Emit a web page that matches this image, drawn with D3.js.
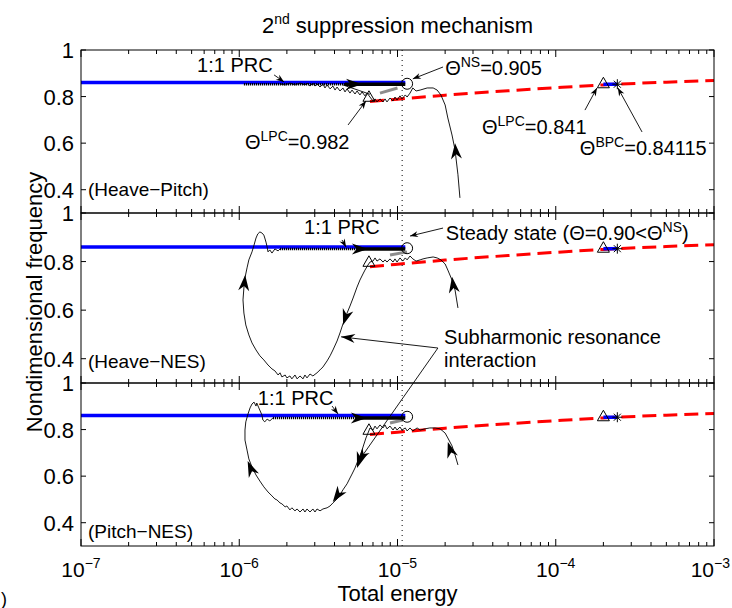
<!DOCTYPE html>
<html>
<head>
<meta charset="utf-8">
<script src="https://cdn.jsdelivr.net/npm/d3@7"></script>
<style>
  body { margin: 0; background: #fff; }
  text { font-family: "Liberation Sans", Arial, Helvetica, sans-serif; fill: #000; }
</style>
</head>
<body>
<svg id="chart" width="732" height="608"></svg>
<script>
// ---- data ----
const energyDomain = [1e-7, 1e-3];
const freqDomain = [0.3, 1];
const xTickValues = [1e-7, 1e-6, 1e-5, 1e-4, 1e-3];
const xTickExponents = ["−7", "−6", "−5", "−4", "−3"];
const yTickValues = [0.4, 0.6, 0.8, 1];
const yTickLabels = ["0.4", "0.6", "0.8", "1"];
const panelNames = ["(Heave−Pitch)", "(Heave−NES)", "(Pitch−NES)"];

// stable 1:1 PRC branch (blue) and unstable branch (red dashed)
const prcEnergy = [1e-7, 1.12e-5];
const prcFreq = 0.86;
const unstableEnergy = [6.7e-6, 1e-5, 2e-5, 5e-5, 1e-4, 2e-4, 5e-4, 1e-3];
const unstableFreq = [0.779, 0.789, 0.806, 0.825, 0.838, 0.85, 0.862, 0.869];
const stableShort = [[2.0e-4, 0.853], [2.45e-4, 0.853]];
const nsLine = 1.07e-5;
const steadyPoint = [1.15e-5, 0.855];
const lpcPoints = [[6.6e-6, 0.797], [2.0e-4, 0.855]];
const bpcPoint = [2.45e-4, 0.853];
const grayBranch = [
  [[7.75e-6, 0.815], [1.0e-5, 0.837]],
  [[8.97e-6, 0.827], [1.15e-5, 0.84]],
  [[8.97e-6, 0.828], [1.08e-5, 0.841]]
];

// time histories (energy, frequency)
const hpTraj = [[2.48e-5,0.365],[2.41e-5,0.464],[2.31e-5,0.571],[2.21e-5,0.635],[2.08e-5,0.708],[2.00e-5,0.764],[1.88e-5,0.807],[1.78e-5,0.828],[1.68e-5,0.837],[1.54e-5,0.837],[1.39e-5,0.828],[1.31e-5,0.824],[1.25e-5,0.837],[1.20e-5,0.815],[1.15e-5,0.798],[1.12e-5,0.807],[1.067e-5,0.79],[1.037e-5,0.803],[9.93e-6,0.785],[9.64e-6,0.798],[9.37e-6,0.781],[8.97e-6,0.794],[8.58e-6,0.777],[8.34e-6,0.79],[8.10e-6,0.777],[7.75e-6,0.79],[7.42e-6,0.777],[7.21e-6,0.79],[7.00e-6,0.781],[6.70e-6,0.798],[6.42e-6,0.815],[6.23e-6,0.803],[5.97e-6,0.820],[5.79e-6,0.807],[5.55e-6,0.824],[5.39e-6,0.811],[5.16e-6,0.828],[5.01e-6,0.815],[4.80e-6,0.833],[4.66e-6,0.820],[4.52e-6,0.837],[4.33e-6,0.824],[4.15e-6,0.841],[4.03e-6,0.828],[3.91e-6,0.845],[3.75e-6,0.833],[3.59e-6,0.850],[3.48e-6,0.837],[3.38e-6,0.854],[3.24e-6,0.841],[3.10e-6,0.854],[3.01e-6,0.845],[2.92e-6,0.858],[2.80e-6,0.845],[2.68e-6,0.858],[2.60e-6,0.850],[2.42e-6,0.858],[2.25e-6,0.850],[2.09e-6,0.858],[1.95e-6,0.850],[1.81e-6,0.854]];
const hpChord = [[4.52e-6, 0.85], [6.7e-6, 0.81]];

const hnTraj = [[2.41e-5,0.609],[2.31e-5,0.683],[2.21e-5,0.724],[2.08e-5,0.765],[2.00e-5,0.790],[1.88e-5,0.807],[1.78e-5,0.815],[1.68e-5,0.819],[1.54e-5,0.815],[1.45e-5,0.811],[1.39e-5,0.807],[1.31e-5,0.802],[1.25e-5,0.811],[1.20e-5,0.823],[1.15e-5,0.807],[1.12e-5,0.815],[1.08e-5,0.802],[1.037e-5,0.815],[9.93e-6,0.798],[9.64e-6,0.811],[9.37e-6,0.798],[8.97e-6,0.811],[8.58e-6,0.798],[8.34e-6,0.807],[8.10e-6,0.798],[7.75e-6,0.811],[7.42e-6,0.802],[7.21e-6,0.815],[7.00e-6,0.802],[6.70e-6,0.798],[6.51e-6,0.786],[6.23e-6,0.765],[6.05e-6,0.749],[5.79e-6,0.724],[5.55e-6,0.695],[5.24e-6,0.650],[5.01e-6,0.617],[4.80e-6,0.588],[4.52e-6,0.543],[4.33e-6,0.506],[4.15e-6,0.473],[3.91e-6,0.436],[3.75e-6,0.412],[3.59e-6,0.391],[3.38e-6,0.366],[3.24e-6,0.354],[3.10e-6,0.342],[2.92e-6,0.329],[2.80e-6,0.337],[2.68e-6,0.321],[2.60e-6,0.333],[2.53e-6,0.317],[2.42e-6,0.329],[2.32e-6,0.317],[2.25e-6,0.333],[2.15e-6,0.317],[2.09e-6,0.329],[2.00e-6,0.321],[1.95e-6,0.333],[1.86e-6,0.325],[1.81e-6,0.342],[1.76e-6,0.333],[1.68e-6,0.350],[1.61e-6,0.358],[1.52e-6,0.374],[1.43e-6,0.395],[1.35e-6,0.412],[1.276e-6,0.436],[1.204e-6,0.465],[1.15e-6,0.498],[1.10e-6,0.539],[1.07e-6,0.588],[1.056e-6,0.642],[1.07e-6,0.691],[1.087e-6,0.733],[1.12e-6,0.774],[1.15e-6,0.807],[1.204e-6,0.840],[1.24e-6,0.868],[1.276e-6,0.897],[1.31e-6,0.914],[1.35e-6,0.922],[1.39e-6,0.918],[1.43e-6,0.909],[1.45e-6,0.897],[1.48e-6,0.877],[1.50e-6,0.860],[1.52e-6,0.840],[1.56e-6,0.848],[1.61e-6,0.835],[1.68e-6,0.852],[1.76e-6,0.844],[1.81e-6,0.852]];

const pnTraj = [[2.41e-5,0.648],[2.31e-5,0.691],[2.21e-5,0.730],[2.08e-5,0.764],[2.00e-5,0.785],[1.86e-5,0.803],[1.73e-5,0.807],[1.60e-5,0.807],[1.49e-5,0.803],[1.39e-5,0.798],[1.33e-5,0.807],[1.25e-5,0.794],[1.20e-5,0.807],[1.15e-5,0.794],[1.12e-5,0.807],[1.067e-5,0.798],[1.037e-5,0.811],[9.93e-6,0.798],[9.64e-6,0.811],[9.37e-6,0.798],[8.97e-6,0.815],[8.58e-6,0.803],[8.34e-6,0.820],[8.10e-6,0.807],[7.75e-6,0.820],[7.42e-6,0.803],[7.21e-6,0.815],[7.00e-6,0.798],[6.70e-6,0.807],[6.51e-6,0.785],[6.32e-6,0.764],[6.14e-6,0.738],[5.97e-6,0.712],[5.79e-6,0.687],[5.55e-6,0.657],[5.39e-6,0.635],[5.16e-6,0.609],[5.01e-6,0.592],[4.80e-6,0.567],[4.52e-6,0.541],[4.33e-6,0.519],[4.15e-6,0.502],[3.91e-6,0.485],[3.75e-6,0.472],[3.59e-6,0.464],[3.38e-6,0.459],[3.24e-6,0.451],[3.10e-6,0.459],[3.01e-6,0.446],[2.92e-6,0.459],[2.80e-6,0.446],[2.68e-6,0.459],[2.60e-6,0.446],[2.53e-6,0.459],[2.42e-6,0.446],[2.32e-6,0.459],[2.25e-6,0.451],[2.15e-6,0.464],[2.09e-6,0.455],[2.00e-6,0.472],[1.95e-6,0.468],[1.86e-6,0.481],[1.81e-6,0.485],[1.73e-6,0.498],[1.68e-6,0.502],[1.61e-6,0.515],[1.52e-6,0.532],[1.43e-6,0.554],[1.35e-6,0.579],[1.276e-6,0.605],[1.204e-6,0.639],[1.15e-6,0.674],[1.12e-6,0.712],[1.087e-6,0.755],[1.087e-6,0.798],[1.10e-6,0.833],[1.136e-6,0.867],[1.17e-6,0.893],[1.204e-6,0.910],[1.24e-6,0.918],[1.276e-6,0.901],[1.29e-6,0.914],[1.33e-6,0.893],[1.39e-6,0.863],[1.41e-6,0.841],[1.45e-6,0.833],[1.50e-6,0.845],[1.56e-6,0.837],[1.63e-6,0.850]];

// dense 1:1 oscillation band (thin textured part, then solid part)
const bandThin = [[1.07e-6, 4.66e-6], [1.81e-6, 5.8e-6], [1.63e-6, 5.8e-6]];
const bandThick = [[4.66e-6, 1.12e-5], [5.8e-6, 1.12e-5], [5.8e-6, 1.12e-5]];
const bandFreq = [0.853, 0.852, 0.85];

// flow direction arrows on the trajectories: [panel, from, to]
const flowArrows = [
  [0, [4.8e-6, 0.853], [5.97e-6, 0.853]],
  [0, [2.38e-5, 0.5], [2.31e-5, 0.6]],
  [1, [5.3e-6, 0.852], [6.5e-6, 0.852]],
  [1, [2.3e-5, 0.66], [2.21e-5, 0.737]],
  [1, [1.06e-6, 0.66], [1.09e-6, 0.745]],
  [1, [5.1e-6, 0.642], [4.53e-6, 0.539]],
  [2, [5.2e-6, 0.85], [6.4e-6, 0.85]],
  [2, [2.31e-5, 0.648], [2.08e-5, 0.747]],
  [2, [6.2e-6, 0.734], [5.55e-6, 0.635]],
  [2, [4.65e-6, 0.562], [3.9e-6, 0.489]],
  [2, [1.31e-6, 0.562], [1.13e-6, 0.665]]
];

// ---- layout ----
const svg = d3.select("#chart");
const plotLeft = 81, plotRight = 714;
const panelBox = [
  { top: 50, bottom: 213 },
  { top: 213, bottom: 383 },
  { top: 383, bottom: 546 }
];

const x = d3.scaleLog().domain(energyDomain).range([plotLeft, plotRight]);
const ys = panelBox.map(p => d3.scaleLinear().domain(freqDomain).range([p.bottom, p.top]));

const trajs = [hpTraj, hnTraj, pnTraj];
const line = (y) => d3.line().x(d => x(d[0])).y(d => y(d[1]));

function arrowHead(g, x1, y1, x2, y2, len, hw) {
  const a = Math.atan2(y2 - y1, x2 - x1) * 180 / Math.PI;
  g.append("path")
    .attr("d", `M0,0 L${-len},${-hw} L${-len * 0.7},0 L${-len},${hw} Z`)
    .attr("transform", `translate(${x2},${y2}) rotate(${a})`)
    .attr("fill", "#000");
}

// rich text with superscripts: parts = [[text, isSup], ...]
function rich(parent, px, py, parts, size, supSize, rise, anchor) {
  const t = parent.append("text")
    .attr("x", px).attr("y", py)
    .attr("font-size", size)
    .attr("text-anchor", anchor || "start");
  let raised = false;
  parts.forEach(p => {
    const s = t.append("tspan").text(p[0]);
    if (p[1]) {
      s.attr("font-size", supSize);
      if (!raised) s.attr("dy", -rise);
      raised = true;
    } else if (raised) {
      s.attr("dy", rise);
      raised = false;
    }
  });
  return t;
}

const minorTicks = [];
for (let e = -7; e < -3; e++) for (let m = 2; m <= 9; m++) minorTicks.push(m * Math.pow(10, e));

panelBox.forEach((p, i) => {
  const y = ys[i];
  const g = svg.append("g");

  // stable branch
  g.append("line")
    .attr("x1", x(prcEnergy[0])).attr("x2", x(prcEnergy[1]))
    .attr("y1", y(prcFreq)).attr("y2", y(prcFreq))
    .attr("stroke", "#0000ff").attr("stroke-width", 3.5);

  // unstable branch
  g.append("path")
    .datum(unstableEnergy.map((e, k) => [e, unstableFreq[k]]))
    .attr("d", d3.line().curve(d3.curveMonotoneX).x(d => x(d[0])).y(d => y(d[1])))
    .attr("fill", "none").attr("stroke", "#ff0000")
    .attr("stroke-width", 3).attr("stroke-dasharray", "14,7");

  g.append("path").datum(stableShort).attr("d", line(y))
    .attr("stroke", "#0000ff").attr("stroke-width", 3.5);

  g.append("path").datum(grayBranch[i]).attr("d", line(y))
    .attr("stroke", "#8c8c8c").attr("stroke-width", 3);

  // trajectories
  g.append("path").datum(trajs[i]).attr("d", line(y))
    .attr("fill", "none").attr("stroke", "#000").attr("stroke-width", 0.9)
    .attr("stroke-linejoin", "round");
  if (i === 0) {
    g.append("path").datum(hpChord).attr("d", line(y))
      .attr("fill", "none").attr("stroke", "#000").attr("stroke-width", 0.9);
  }

  // oscillation band
  g.append("line")
    .attr("x1", x(bandThin[i][0])).attr("x2", x(bandThin[i][1]))
    .attr("y1", y(bandFreq[i])).attr("y2", y(bandFreq[i]))
    .attr("stroke", "#000").attr("stroke-width", 2.6).attr("stroke-dasharray", "1.2,0.8");
  g.append("line")
    .attr("x1", x(bandThick[i][0])).attr("x2", x(bandThick[i][1]))
    .attr("y1", y(bandFreq[i])).attr("y2", y(bandFreq[i]))
    .attr("stroke", "#000").attr("stroke-width", 3.5);

  // markers
  g.append("circle")
    .attr("cx", x(steadyPoint[0])).attr("cy", y(steadyPoint[1])).attr("r", 5.5)
    .attr("fill", "none").attr("stroke", "#000").attr("stroke-width", 1);
  lpcPoints.forEach(d => {
    g.append("path")
      .attr("d", "M0,-6.5 L6,4 L-6,4 Z")
      .attr("transform", `translate(${x(d[0])},${y(d[1])})`)
      .attr("fill", "none").attr("stroke", "#000").attr("stroke-width", 1);
  });
  const sx = x(bpcPoint[0]), sy = y(bpcPoint[1]), r = 5;
  [[-r, 0, r, 0], [0, -r, 0, r], [-r * 0.7, -r * 0.7, r * 0.7, r * 0.7], [-r * 0.7, r * 0.7, r * 0.7, -r * 0.7]]
    .forEach(s => g.append("line")
      .attr("x1", sx + s[0]).attr("y1", sy + s[1]).attr("x2", sx + s[2]).attr("y2", sy + s[3])
      .attr("stroke", "#000").attr("stroke-width", 1));

  // box
  g.append("rect")
    .attr("x", plotLeft).attr("y", p.top)
    .attr("width", plotRight - plotLeft).attr("height", p.bottom - p.top)
    .attr("fill", "none").attr("stroke", "#000").attr("stroke-width", 1);

  // ticks (inside, all four sides)
  yTickValues.forEach(v => {
    g.append("line").attr("x1", plotLeft).attr("x2", plotLeft + 5)
      .attr("y1", y(v)).attr("y2", y(v)).attr("stroke", "#000");
    g.append("line").attr("x1", plotRight).attr("x2", plotRight - 5)
      .attr("y1", y(v)).attr("y2", y(v)).attr("stroke", "#000");
  });
  const tickSet = xTickValues.map(v => [v, 7]).concat(minorTicks.map(v => [v, 4]));
  tickSet.forEach(([v, len]) => {
    g.append("line").attr("x1", x(v)).attr("x2", x(v))
      .attr("y1", p.bottom).attr("y2", p.bottom - len).attr("stroke", "#000");
    g.append("line").attr("x1", x(v)).attr("x2", x(v))
      .attr("y1", p.top).attr("y2", p.top + len).attr("stroke", "#000");
  });

  // y tick labels
  yTickValues.forEach((v, k) => {
    g.append("text").attr("x", plotLeft - 7).attr("y", y(v) + 8)
      .attr("text-anchor", "end").attr("font-size", 22).text(yTickLabels[k]);
  });

  // panel name
  g.append("text").attr("x", x(1.107e-7)).attr("y", y([0.373, 0.362, 0.335][i]))
    .attr("font-size", 19).text(panelNames[i]);
});

// vertical dotted line (Neimark-Sacker point)
svg.append("line")
  .attr("x1", x(nsLine)).attr("x2", x(nsLine))
  .attr("y1", panelBox[0].top).attr("y2", panelBox[2].bottom)
  .attr("stroke", "#000").attr("stroke-width", 1).attr("stroke-dasharray", "1,4");

// flow arrows
flowArrows.forEach(([i, a, b]) => {
  const y = ys[i];
  arrowHead(svg, x(a[0]), y(a[1]), x(b[0]), y(b[1]), 16, 5.5);
});

// annotation arrows: [fromPanel, from, toPanel, to, big]
const noteArrows = [
  [0, [1.66e-6, 0.893], 0, [1.92e-6, 0.863], false],
  [0, [1.94e-5, 0.927], 0, [1.25e-5, 0.876], false],
  [0, [4.87e-6, 0.678], 0, [6.32e-6, 0.781], false],
  [0, [1.53e-4, 0.742], 0, [1.82e-4, 0.837], false],
  [0, [3.51e-4, 0.648], 0, [2.47e-4, 0.837], false],
  [1, [4.46e-6, 0.889], 1, [4.73e-6, 0.86], false],
  [1, [1.94e-5, 0.938], 1, [1.20e-5, 0.905], false],
  [1, [1.80e-5, 0.444], 1, [4.40e-6, 0.49], true],
  [1, [1.80e-5, 0.444], 2, [5.63e-6, 0.661], true],
  [2, [3.86e-6, 0.901], 2, [4.21e-6, 0.867], false]
];
noteArrows.forEach(([pa, a, pb, b, big]) => {
  const x1 = x(a[0]), y1 = ys[pa](a[1]), x2 = x(b[0]), y2 = ys[pb](b[1]);
  svg.append("line").attr("x1", x1).attr("y1", y1).attr("x2", x2).attr("y2", y2)
    .attr("stroke", "#000").attr("stroke-width", 0.9);
  arrowHead(svg, x1, y1, x2, y2, big ? 14 : 8, big ? 4.5 : 3);
});

// annotation texts: [panel, energy, freq, parts]
const notes = [
  [0, 5.41e-7, 0.906, [["1:1 PRC"]]],
  [0, 2.0e-5, 0.893, [["Θ"], ["NS", 1], ["=0.905"]]],
  [0, 1.087e-6, 0.575, [["Θ"], ["LPC", 1], ["=0.982"]]],
  [0, 3.42e-5, 0.639, [["Θ"], ["LPC", 1], ["=0.841"]]],
  [0, 1.42e-4, 0.549, [["Θ"], ["BPC", 1], ["=0.84115"]]],
  [1, 2.57e-6, 0.914, [["1:1 PRC"]]],
  [1, 2.02e-5, 0.889, [["Steady state (Θ=0.90<Θ"], ["NS", 1], [")"]]],
  [1, 1.97e-5, 0.461, [["Subharmonic resonance"]]],
  [1, 1.97e-5, 0.366, [["interaction"]]],
  [2, 1.31e-6, 0.906, [["1:1 PRC"]]]
];
notes.forEach(([i, e, f, parts]) => {
  rich(svg, x(e), ys[i](f), parts, 20, 14, 8);
});

// x tick labels (last one kept inside the page edge)
xTickValues.forEach((v, k) => {
  const last = k === xTickValues.length - 1;
  rich(svg, last ? 730 : x(v), 577, [["10"], [xTickExponents[k], 1]], 21, 14, 9, last ? "end" : "middle");
});

// axis titles
svg.append("text").attr("x", (plotLeft + plotRight) / 2).attr("y", 601)
  .attr("text-anchor", "middle").attr("font-size", 22).text("Total energy");
svg.append("text")
  .attr("transform", `translate(42,${(panelBox[0].top + panelBox[2].bottom) / 2 + 4}) rotate(-90)`)
  .attr("text-anchor", "middle").attr("font-size", 22).text("Nondimensional frequency");
rich(svg, (plotLeft + plotRight) / 2, 33, [["2"], ["nd", 1], [" suppression mechanism"]], 22, 14, 9, "middle");

// stray bracket at the lower left corner of the original figure
svg.append("text").attr("x", 1).attr("y", 605).attr("font-size", 18).text(")");
</script>
</body>
</html>
